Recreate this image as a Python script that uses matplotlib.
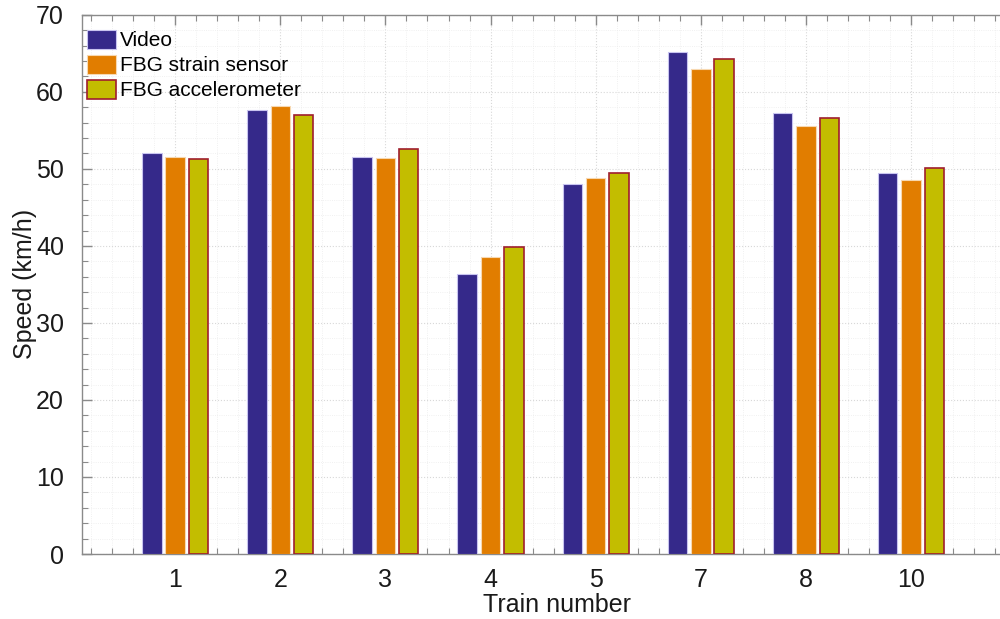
import matplotlib
matplotlib.use("Agg")
import matplotlib.pyplot as plt
import numpy as np
from matplotlib.ticker import MultipleLocator

plt.rcParams['font.family'] = ['Liberation Sans', 'DejaVu Sans']

trains = ['1', '2', '3', '4', '5', '7', '8', '10']
video = [52.1, 57.6, 51.5, 36.4, 48.0, 65.2, 57.3, 49.5]
fbg_strain = [51.6, 58.2, 51.4, 38.5, 48.8, 63.0, 55.6, 48.5]
fbg_acc = [51.3, 57.0, 52.6, 39.9, 49.5, 64.3, 56.6, 50.1]
series_names = ['Video', 'FBG strain sensor', 'FBG accelerometer']

fig = plt.figure(figsize=(10, 6.19), dpi=100)
ax = fig.add_axes([0.082, 0.105, 0.95, 0.871])

x = np.arange(1, len(trains) + 1)
w = 0.185
off = 0.222
ax.bar(x - off, video, w, color='#35298a', edgecolor='#c8c4f0', linewidth=0.8, label=series_names[0], zorder=3)
ax.bar(x, fbg_strain, w, color='#e17d00', edgecolor='#f7d8b0', linewidth=0.8, label=series_names[1], zorder=3)
ax.bar(x + off, fbg_acc, w, color='#c3bd00', edgecolor='#a01e2e', linewidth=1.2, label=series_names[2], zorder=3)

ax.set_xlim(0.114, 9.15)
ax.set_ylim(0, 70)
ax.set_xticks(x)
ax.set_xticklabels(trains)
ax.xaxis.set_minor_locator(MultipleLocator(0.2))
ax.yaxis.set_major_locator(MultipleLocator(10))
ax.yaxis.set_minor_locator(MultipleLocator(2))

ax.grid(which='major', color='#d8d8d8', linestyle=':', linewidth=0.8, zorder=0)
ax.grid(which='minor', color='#ececec', linestyle=':', linewidth=0.6, zorder=0)

for s in ax.spines.values():
    s.set_color('#8a8a8a')
    s.set_linewidth(1.0)

ax.tick_params(which='both', direction='in', top=True, right=True, colors='#8a8a8a',
               labelcolor='#1a1a1a', labelsize=18)
ax.tick_params(which='major', length=7, width=1)
ax.tick_params(which='minor', length=4, width=0.8)
ax.tick_params(axis='x', which='major', pad=10)
ax.tick_params(axis='y', which='major', pad=13)

ax.set_xlabel('Train number', fontsize=18, color='#1a1a1a', labelpad=1)
ax.set_ylabel('Speed (km/h)', fontsize=18, color='#1a1a1a', labelpad=-1)

leg = ax.legend(loc='upper left', frameon=False, fontsize=15, handlelength=1.4,
                handleheight=1.0, handletextpad=0.2, labelspacing=0.22,
                borderaxespad=0.0, borderpad=0.0, bbox_to_anchor=(0.005, 0.972))

fig.savefig('out.png', dpi=100)
